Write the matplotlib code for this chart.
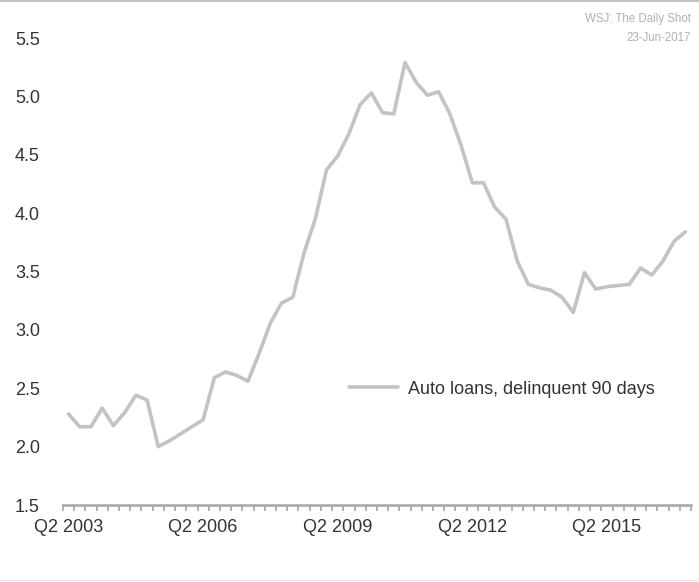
import numpy as np
import matplotlib.pyplot as plt
from matplotlib.lines import Line2D

# Quarterly, Q2 2003 .. Q1 2017
start_year, start_q = 2003, 2
auto_90 = [2.28, 2.17, 2.17, 2.33, 2.18, 2.29, 2.44, 2.40, 2.00, 2.05,
           2.11, 2.17, 2.23, 2.59, 2.64, 2.61, 2.56, 2.80, 3.06, 3.23,
           3.28, 3.66, 3.95, 4.37, 4.49, 4.68, 4.93, 5.03, 4.86, 4.85,
           5.29, 5.12, 5.01, 5.04, 4.85, 4.58, 4.26, 4.26, 4.05, 3.95,
           3.59, 3.39, 3.36, 3.34, 3.28, 3.15, 3.49, 3.35, 3.37, 3.38,
           3.39, 3.53, 3.47, 3.59, 3.76, 3.84]
label_every = 12
y_ticks = [1.5, 2.0, 2.5, 3.0, 3.5, 4.0, 4.5, 5.0, 5.5]

n = len(auto_90)
quarters = [f"Q{(start_q - 1 + i) % 4 + 1} {start_year + (start_q - 1 + i) // 4}"
            for i in range(n)]
x = np.arange(n)

plt.rcParams['font.family'] = ['Liberation Sans', 'DejaVu Sans']
text_col = "#333333"
axis_col = "#a6a6a6"
line_col = "#c3c3c3"

fig = plt.figure(figsize=(6.99, 5.82), dpi=100)
ax = fig.add_axes([0.090, 0.1323, 0.8986, 0.8024])

ax.plot(x, auto_90, color=line_col, lw=2.6, solid_joinstyle="round",
        solid_capstyle="round", label="Auto loans, delinquent 90 days")

ax.set_xlim(-0.5, n - 0.5)
ax.set_ylim(1.5, 5.5)

ax.set_yticks(y_ticks)
ax.set_yticklabels([f"{v:.1f}" for v in y_ticks])
ax.tick_params(axis="y", length=0, pad=16.5, labelsize=13, labelcolor=text_col)

major = x[::label_every]
ax.set_xticks(major)
ax.set_xticklabels([quarters[i] for i in major])
ax.set_xticks(np.arange(-0.5, n, 1.0), minor=True)
ax.tick_params(axis="x", which="major", length=0, pad=10, labelsize=13,
               labelcolor=text_col)
ax.tick_params(axis="x", which="minor", length=4, width=1.2, color=axis_col,
               direction="out")

for side in ["top", "right", "left"]:
    ax.spines[side].set_visible(False)
ax.spines["bottom"].set_color(axis_col)
ax.spines["bottom"].set_linewidth(1.8)

ax.legend(loc="center left", bbox_to_anchor=(0.43, 0.248), frameon=False,
          fontsize=13, handlelength=2.7, handletextpad=0.55,
          labelcolor=text_col)

fig.text(0.988, 0.968, "WSJ: The Daily Shot", ha="right", va="center",
         fontsize=8.3, color="#b0b0b0")
fig.text(0.988, 0.935, "23-Jun-2017", ha="right", va="center",
         fontsize=8.3, color="#b0b0b0")

fig.add_artist(Line2D([0, 1], [0.998, 0.998], color="#b5b5b5", lw=1.2))
fig.add_artist(Line2D([0, 1], [0.004, 0.004], color="#ececec", lw=1.0))

fig.savefig("out.png", dpi=100)
